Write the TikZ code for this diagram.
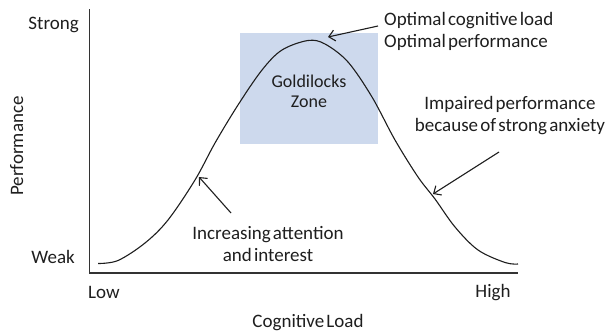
\documentclass[tikz,border=0pt]{standalone}
\usepackage{fontspec}
\setmainfont[WordSpace=0.5]{Carlito}
\usetikzlibrary{arrows.meta}
\definecolor{zonefill}{HTML}{CDD9ED}
\definecolor{inkc}{HTML}{1E1E1E}
\definecolor{axisc}{HTML}{333333}
\tikzset{
  lbl/.style={inner sep=0pt, text=inkc, font=\fontsize{19}{22}\selectfont},
  axisline/.style={draw=axisc, line width=1.3pt},
  curveline/.style={draw=inkc, line width=1.1pt},
  callout/.style={draw=inkc, line width=1.1pt, -{Straight Barb[length=6pt,width=11pt]}},
}
\begin{document}
\begin{tikzpicture}[x=1pt,y=-1pt]
\useasboundingbox (0,0) rectangle (612,332);
% Goldilocks box
\node[fill=zonefill, inner sep=0pt, minimum width=138pt, minimum height=111pt] (zone) at (309,88.5) {};
\node[lbl, align=center, font=\fontsize{18}{20}\selectfont] (zonetxt) at (309,91) {Goldilocks\\Zone};
% axes
\coordinate (ytop) at (89.5,9);
\coordinate (origin) at (89.5,273);
\coordinate (xend) at (518,273);
\draw[axisline] (ytop) -- (origin) -- (xend);
% curve
\draw[curveline] plot[smooth, tension=0.55] coordinates {
 (98,263.5) (118,260.5) (145,243) (168,220) (195,180) (215,143) (238,105) (262,70) (282,50) (308,40.5)
 (325,44) (348,62) (372,97) (395,140) (418,177) (435,199) (455,227) (478,250) (505,262.5) (518,264)};
% axis labels
\node[lbl, anchor=base east] (strong) at (79,29) {Strong};
\node[lbl, anchor=base east] (weak) at (75,263) {Weak};
\node[lbl, anchor=base] (low) at (104,298) {Low};
\node[lbl, anchor=base] (high) at (493,297) {High};
\node[lbl, anchor=base] (xlabel) at (308,327) {Cognitive Load};
\node[lbl, anchor=base, rotate=90] (ylabel) at (23,146) {Performance};
% annotations
\node[lbl, align=left, anchor=west] (optimal) at (384,31.5) {Optimal cognitive load\\Optimal performance};
\node[lbl, align=center] (impaired) at (510,116) {Impaired performance\\because of strong anxiety};
\node[lbl, align=center] (increasing) at (268,244) {Increasing attention\\and interest};
% callout arrows
\coordinate (optTail) at (378,26);
\coordinate (optTip) at (328,37);
\coordinate (impTail) at (499,152);
\coordinate (impTip) at (433,194);
\coordinate (incTail) at (231,213);
\coordinate (incTip) at (199,177);
\draw[callout] (optTail) -- (optTip);
\draw[callout] (impTail) -- (impTip);
\draw[callout] (incTail) -- (incTip);
\end{tikzpicture}
\end{document}
